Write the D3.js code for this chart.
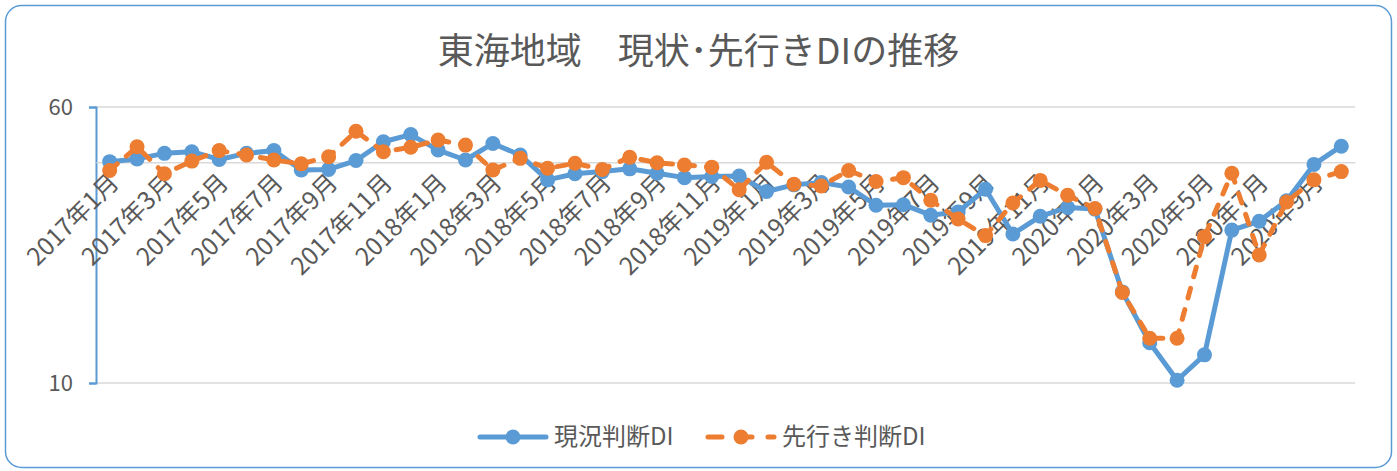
<!DOCTYPE html>
<html>
<head>
<meta charset="utf-8">
<script src="https://cdn.jsdelivr.net/npm/d3@7"></script>
<style>
  body { margin: 0; background: #fff; }
  svg { display: block; }
</style>
</head>
<body>
<div id="chart"></div>
<script>
// categories: 2017年1月 .. 2020年10月
const months = [
  "2017年1月","2017年2月","2017年3月","2017年4月","2017年5月","2017年6月","2017年7月","2017年8月","2017年9月","2017年10月","2017年11月","2017年12月",
  "2018年1月","2018年2月","2018年3月","2018年4月","2018年5月","2018年6月","2018年7月","2018年8月","2018年9月","2018年10月","2018年11月","2018年12月",
  "2019年1月","2019年2月","2019年3月","2019年4月","2019年5月","2019年6月","2019年7月","2019年8月","2019年9月","2019年10月","2019年11月","2019年12月",
  "2020年1月","2020年2月","2020年3月","2020年4月","2020年5月","2020年6月","2020年7月","2020年8月","2020年9月","2020年10月"
];

// 現況判断DI
const genkyo = [
  50.1, 50.6, 51.6, 51.9, 50.5, 51.6, 52.1, 48.6, 48.7, 50.3, 53.7, 55.0,
  52.2, 50.4, 53.4, 51.3, 46.8, 47.9, 48.3, 48.8, 48.0, 47.2, 47.4, 47.5,
  44.7, 45.9, 46.3, 45.5, 42.2, 42.3, 40.4, 41.0, 45.1, 37.0, 40.2, 41.8,
  41.5, 26.5, 17.3, 10.5, 15.1, 37.7, 39.3, 43.0, 49.6, 52.9
];

// 先行き判断DI
const sakiyuki = [
  48.5, 52.8, 47.9, 50.2, 52.1, 51.3, 50.4, 49.7, 51.0, 55.6, 51.9, 52.7,
  54.0, 53.1, 48.6, 50.7, 48.9, 49.8, 48.7, 50.9, 49.9, 49.5, 49.1, 45.0,
  50.0, 46.0, 45.7, 48.5, 46.5, 47.2, 43.1, 39.7, 36.7, 42.6, 46.7, 44.0,
  41.6, 26.4, 18.1, 18.1, 36.5, 48.0, 33.2, 42.8, 46.8, 48.3
];

const yTicks = [10, 60];
const axisCross = 50;
const title = "東海地域　現状･先行きDIの推移";
const seriesNames = ["現況判断DI", "先行き判断DI"];

const W = 1397, H = 471;
const blue = "#5B9BD5", orange = "#ED7D31", textCol = "#595959", gridCol = "#D9D9D9";
const font = "'Noto Sans CJK JP', 'Noto Sans', sans-serif";

const svg = d3.select("#chart").append("svg")
  .attr("width", W)
  .attr("height", H)
  .attr("viewBox", `0 0 ${W} ${H}`);

// chart frame
svg.append("rect")
  .attr("x", 5.5).attr("y", 5.5)
  .attr("width", W - 11).attr("height", H - 9)
  .attr("rx", 16)
  .attr("fill", "#fff")
  .attr("stroke", blue)
  .attr("stroke-width", 1.5);

svg.append("text")
  .attr("x", W / 2)
  .attr("y", 64)
  .attr("text-anchor", "middle")
  .style("font-family", font)
  .style("font-size", "36px")
  .style("fill", textCol)
  .text(title);

const x = d3.scalePoint()
  .domain(months)
  .range([96, 1355])
  .padding(0.5);

const y = d3.scaleLinear()
  .domain([10, 60])
  .range([383, 107]);

// gridlines
svg.append("g")
  .selectAll("line")
  .data(yTicks)
  .join("line")
  .attr("x1", 96).attr("x2", 1355)
  .attr("y1", d => y(d)).attr("y2", d => y(d))
  .attr("stroke", gridCol)
  .attr("stroke-width", 1.5);

// y axis
const yAxis = svg.append("g")
  .attr("transform", "translate(96,0)")
  .call(d3.axisLeft(y).tickValues(yTicks).tickSize(7).tickPadding(16));
yAxis.select(".domain").attr("stroke", blue).attr("stroke-width", 2);
yAxis.selectAll(".tick line").attr("stroke", blue).attr("stroke-width", 2);
yAxis.selectAll(".tick text")
  .style("font-family", font)
  .style("font-size", "22px")
  .style("fill", textCol);

// category axis crossing at 50
const axisY = y(axisCross);
const xAxis = svg.append("g")
  .attr("transform", `translate(0,${axisY})`)
  .call(d3.axisBottom(x).tickSize(0).tickValues(months.filter((d, i) => i % 2 === 0)));
xAxis.select(".domain").attr("stroke", gridCol).attr("stroke-width", 1.5);
xAxis.selectAll(".tick text")
  .attr("text-anchor", "end")
  .attr("x", 0).attr("y", 0).attr("dy", "0.35em")
  .attr("transform", "translate(4,16) rotate(-45)")
  .style("font-family", font)
  .style("font-size", "24.5px")
  .style("fill", textCol);

// series
const line = d3.line()
  .x((d, i) => x(months[i]))
  .y(d => y(d));

function drawSeries(values, color, dash) {
  const g = svg.append("g");
  g.append("path")
    .datum(values)
    .attr("d", line)
    .attr("fill", "none")
    .attr("stroke", color)
    .attr("stroke-width", 5)
    .attr("stroke-linejoin", "round")
    .attr("stroke-linecap", "round")
    .attr("stroke-dasharray", dash);
  g.selectAll("circle")
    .data(values)
    .join("circle")
    .attr("cx", (d, i) => x(months[i]))
    .attr("cy", d => y(d))
    .attr("r", 7.5)
    .attr("fill", color);
}

drawSeries(genkyo, blue, null);
drawSeries(sakiyuki, orange, "10 12");

// legend
const legend = svg.append("g");
const legendItems = [
  { name: seriesNames[0], color: blue, dash: null, x0: 478 },
  { name: seriesNames[1], color: orange, dash: "10 12", x0: 706 }
];
legendItems.forEach(it => {
  legend.append("line")
    .attr("x1", it.x0 + 2).attr("x2", it.x0 + 68)
    .attr("y1", 437).attr("y2", 437)
    .attr("stroke", it.color)
    .attr("stroke-width", 5)
    .attr("stroke-linecap", "round")
    .attr("stroke-dasharray", it.dash ? "14 16" : null);
  legend.append("circle")
    .attr("cx", it.x0 + 35).attr("cy", 437)
    .attr("r", 7.5)
    .attr("fill", it.color);
  legend.append("text")
    .attr("x", it.x0 + 76)
    .attr("y", 437)
    .attr("dy", "0.35em")
    .style("font-family", font)
    .style("font-size", "24px")
    .style("fill", textCol)
    .text(it.name);
});
</script>
</body>
</html>
